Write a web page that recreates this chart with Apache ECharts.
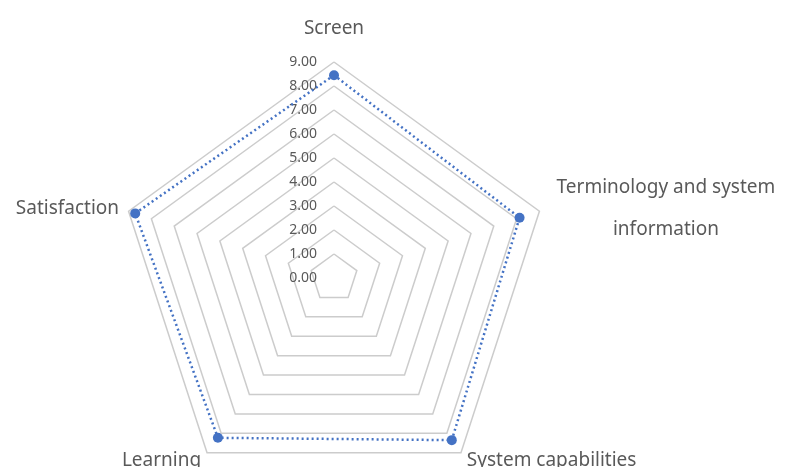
<!DOCTYPE html>
<html>
<head>
<meta charset="utf-8">
<script src="https://cdn.jsdelivr.net/npm/echarts@6/dist/echarts.min.js"></script>
<style>
  html, body { margin: 0; padding: 0; background: #fff; }
  #chart { width: 787px; height: 467px; }
</style>
</head>
<body>
<div id="chart"></div>
<script>
// Usability scores per evaluation dimension (scale 0–9)
const categories = ['Screen', 'Terminology and system information', 'System capabilities', 'Learning', 'Satisfaction'];
const scores = [8.45, 8.13, 8.35, 8.23, 8.71];
const scaleTicks = [0, 1, 2, 3, 4, 5, 6, 7, 8, 9];
const scaleMax = 9;

// ECharts lays radar indicators out counter-clockwise from the top;
// reorder so the dimensions run clockwise: first, then the rest reversed.
const order = [0].concat(categories.slice(1).map((_, i) => categories.length - 1 - i));
const indicators = order.map(i => ({ name: categories[i], max: scaleMax, min: 0 }));
const values = order.map(i => scores[i]);

const FONT = '"Noto Sans", "Open Sans", sans-serif';
const cx = 334, cy = 278, R = 216;

const chart = echarts.init(document.getElementById('chart'), null, { renderer: 'canvas' });
chart.setOption({
  backgroundColor: '#ffffff',
  animation: false,
  radar: {
    center: [cx, cy],
    radius: R,
    startAngle: 90,
    splitNumber: scaleTicks.length - 1,
    shape: 'polygon',
    indicator: indicators,
    nameGap: 10,
    axisName: {
      color: '#595959',
      fontFamily: FONT,
      fontSize: 19,
      formatter: function (name) {
        if (name === 'Screen') return '{top|' + name + '}';
        if (name === 'Terminology and system information') {
          return '{c|Terminology and system}\n{c|information}';
        }
        return name;
      },
      rich: {
        top: { fontFamily: FONT, fontSize: 19, color: '#595959', padding: [0, 0, 14, 0] },
        c: { fontFamily: FONT, fontSize: 19, color: '#595959', width: 234, align: 'center', lineHeight: 42 }
      }
    },
    axisLine: { show: false },
    axisTick: { show: false },
    axisLabel: { show: false },
    splitArea: { show: false },
    splitLine: { lineStyle: { color: '#CCCCCC', width: 1.5 } }
  },
  // Value scale printed along the vertical axis from the centre upward
  grid: { left: cx, top: cy - R, width: 1, height: R },
  xAxis: { type: 'value', show: false },
  yAxis: {
    type: 'value',
    min: scaleTicks[0],
    max: scaleTicks[scaleTicks.length - 1],
    interval: 1,
    axisLine: { show: false },
    axisTick: { show: false },
    splitLine: { show: false },
    axisLabel: {
      color: '#595959',
      fontFamily: FONT,
      fontSize: 14,
      margin: 17,
      formatter: v => v.toFixed(2)
    }
  },
  series: [{
    type: 'radar',
    symbol: 'circle',
    symbolSize: 10,
    itemStyle: { color: '#4472C4' },
    lineStyle: { color: '#4472C4', width: 2.5, type: [2, 3] },
    data: [{ value: values, name: 'Score' }]
  }]
});
</script>
</body>
</html>
